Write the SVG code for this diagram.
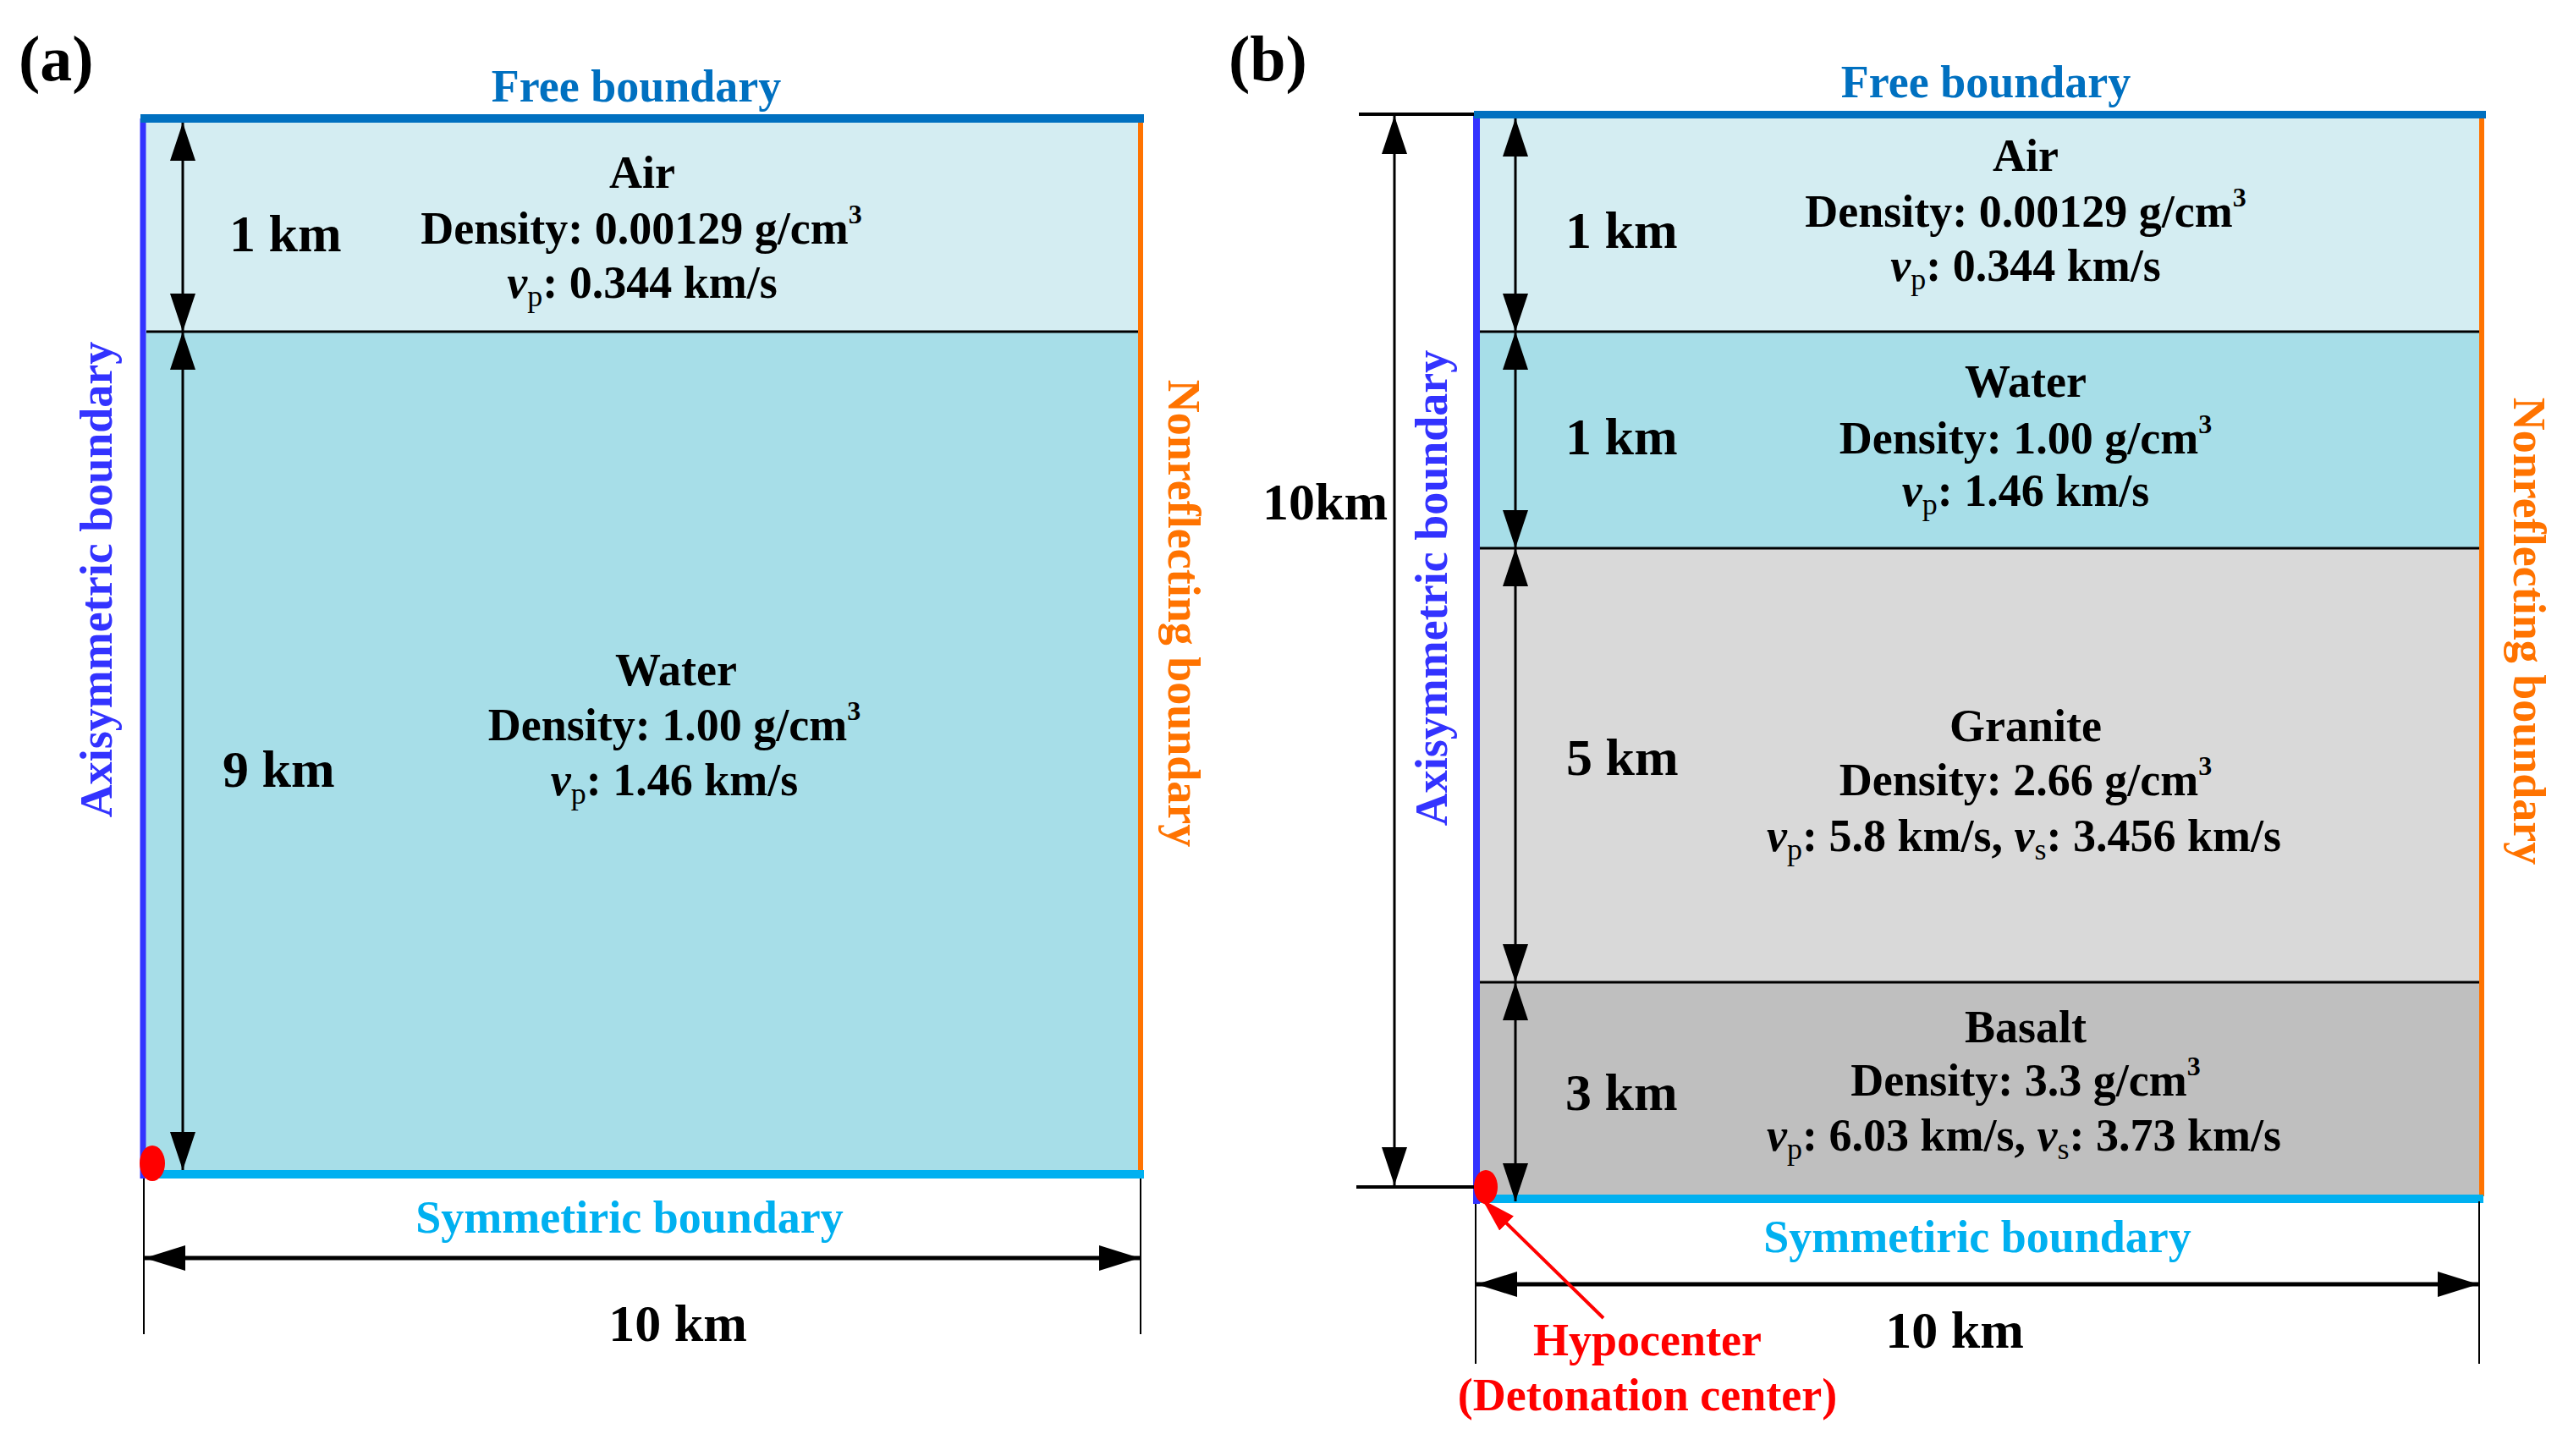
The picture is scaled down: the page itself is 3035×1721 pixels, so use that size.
<svg xmlns="http://www.w3.org/2000/svg" width="3035" height="1721" viewBox="0 0 3035 1721">
<style>
  text { font-family: "Liberation Serif", "Times New Roman", serif; font-weight: bold; }
  .big { font-size: 62px; fill: #000; }
  .lbl { font-size: 54px; fill: #000; text-anchor: middle; }
  .panel { font-size: 76px; fill: #000; }
  .free { font-size: 54px; fill: #0070C0; text-anchor: middle; }
  .sym { font-size: 54px; fill: #00B0F0; text-anchor: middle; }
  .axi { font-size: 54px; fill: #3333FF; text-anchor: middle; }
  .nonr { font-size: 54px; fill: #FF7300; text-anchor: middle; }
  .red { font-size: 54px; fill: #FF0000; text-anchor: middle; }
  .sub { font-size: 36px; font-weight: normal; }
  .sup { font-size: 32px; }
  .it { font-style: italic; }
  .air { fill: #D4EDF2; }
  .water { fill: #A7DEE8; }
  .granite { fill: #D9D9D9; }
  .basalt { fill: #BFBFBF; }
  .div { stroke: #000; stroke-width: 3; }
  .dim { stroke: #000; stroke-width: 3; fill: none; }
  .dimh { stroke: #000; stroke-width: 5; fill: none; }
  .ext { stroke: #000; stroke-width: 2; }
  .ext4 { stroke: #000; stroke-width: 4; }
</style>
<defs>
  <marker id="ah" markerUnits="userSpaceOnUse" markerWidth="45" markerHeight="30" refX="45" refY="15" orient="auto-start-reverse">
    <path d="M0,0 L45,15 L0,30 z" fill="#000"/>
  </marker>
  <marker id="ahh" markerUnits="userSpaceOnUse" markerWidth="48" markerHeight="30" refX="48" refY="15" orient="auto-start-reverse">
    <path d="M0,0 L48,15 L0,30 z" fill="#000"/>
  </marker>
  <marker id="ahr" markerUnits="userSpaceOnUse" markerWidth="40" markerHeight="24" refX="40" refY="12" orient="auto">
    <path d="M0,0 L40,12 L0,24 z" fill="#FF0000"/>
  </marker>
</defs>

<!-- Panel (a) -->
<g id="panel-a-label"><text class="panel" x="22" y="95">(a)</text></g>

<g id="a-air">
  <rect class="air" x="169" y="140" width="1179" height="252"/>
  <text class="lbl" x="759" y="222">Air</text>
  <text class="lbl" x="758" y="288">Density: 0.00129 g/cm<tspan class="sup" dy="-24">3</tspan></text>
  <text class="lbl" x="759" y="352"><tspan class="it">v</tspan><tspan class="sub" dy="10">p</tspan><tspan dy="-10">: 0.344 km/s</tspan></text>
</g>
<g id="a-water">
  <rect class="water" x="169" y="392" width="1179" height="996"/>
  <text class="lbl" x="799" y="810">Water</text>
  <text class="lbl" x="797" y="875">Density: 1.00 g/cm<tspan class="sup" dy="-24">3</tspan></text>
  <text class="lbl" x="797" y="940"><tspan class="it">v</tspan><tspan class="sub" dy="10">p</tspan><tspan dy="-10">: 1.46 km/s</tspan></text>
</g>

<g id="a-boundaries">
  <line x1="169" y1="140" x2="169" y2="1393" stroke="#3333FF" stroke-width="7"/>
  <line x1="1348" y1="145" x2="1348" y2="1385" stroke="#FF7300" stroke-width="6"/>
  <line x1="166" y1="140" x2="1352" y2="140" stroke="#0070C0" stroke-width="10"/>
  <line x1="173" y1="1388" x2="1352" y2="1388" stroke="#00B0F0" stroke-width="10"/>
  <line class="div" x1="173" y1="392" x2="1345" y2="392"/>
</g>

<g id="a-free-label"><text class="free" x="752" y="120">Free boundary</text></g>
<g id="a-sym-label"><text class="sym" x="744" y="1457">Symmetiric boundary</text></g>
<g id="a-axi-label"><text class="axi" transform="translate(132,685) rotate(-90)" x="0" y="0">Axisymmetric boundary</text></g>
<g id="a-nonr-label"><text class="nonr" transform="translate(1381,725) rotate(90)" x="0" y="0">Nonreflecting boundary</text></g>
<g id="a-hypo"><ellipse cx="180" cy="1375" rx="15" ry="21" fill="#FF0000"/></g>

<g id="a-dim-labels">
  <text class="big" x="271" y="297">1 km</text>
  <text class="big" x="263" y="930">9 km</text>
  <text class="big" x="801" y="1585" text-anchor="middle">10 km</text>
</g>

<!-- Panel (b) -->
<g id="panel-b-label"><text class="panel" x="1452" y="95">(b)</text></g>

<g id="b-air">
  <rect class="air" x="1745" y="135" width="1188" height="257"/>
  <text class="lbl" x="2394" y="202">Air</text>
  <text class="lbl" x="2394" y="268">Density: 0.00129 g/cm<tspan class="sup" dy="-24">3</tspan></text>
  <text class="lbl" x="2394" y="332"><tspan class="it">v</tspan><tspan class="sub" dy="10">p</tspan><tspan dy="-10">: 0.344 km/s</tspan></text>
</g>
<g id="b-water">
  <rect class="water" x="1745" y="392" width="1188" height="256"/>
  <text class="lbl" x="2394" y="469">Water</text>
  <text class="lbl" x="2394" y="536">Density: 1.00 g/cm<tspan class="sup" dy="-24">3</tspan></text>
  <text class="lbl" x="2394" y="598"><tspan class="it">v</tspan><tspan class="sub" dy="10">p</tspan><tspan dy="-10">: 1.46 km/s</tspan></text>
</g>
<g id="b-granite">
  <rect class="granite" x="1745" y="648" width="1188" height="513"/>
  <text class="lbl" x="2394" y="876">Granite</text>
  <text class="lbl" x="2394" y="940">Density: 2.66 g/cm<tspan class="sup" dy="-24">3</tspan></text>
  <text class="lbl" x="2392" y="1006"><tspan class="it">v</tspan><tspan class="sub" dy="10">p</tspan><tspan dy="-10">: 5.8 km/s, </tspan><tspan class="it">v</tspan><tspan class="sub" dy="10">s</tspan><tspan dy="-10">: 3.456 km/s</tspan></text>
</g>
<g id="b-basalt">
  <rect class="basalt" x="1745" y="1161" width="1188" height="256"/>
  <text class="lbl" x="2394" y="1232">Basalt</text>
  <text class="lbl" x="2394" y="1295">Density: 3.3 g/cm<tspan class="sup" dy="-24">3</tspan></text>
  <text class="lbl" x="2392" y="1360"><tspan class="it">v</tspan><tspan class="sub" dy="10">p</tspan><tspan dy="-10">: 6.03 km/s, </tspan><tspan class="it">v</tspan><tspan class="sub" dy="10">s</tspan><tspan dy="-10">: 3.73 km/s</tspan></text>
</g>

<g id="b-boundaries">
  <line x1="1745" y1="135" x2="1745" y2="1423" stroke="#3333FF" stroke-width="8"/>
  <line x1="2933" y1="140" x2="2933" y2="1414" stroke="#FF7300" stroke-width="6"/>
  <line x1="1742" y1="135.5" x2="2938" y2="135.5" stroke="#0070C0" stroke-width="9"/>
  <line x1="1749" y1="1417" x2="2935" y2="1417" stroke="#00B0F0" stroke-width="10"/>
  <line class="div" x1="1749" y1="392" x2="2930" y2="392"/>
  <line class="div" x1="1749" y1="648" x2="2930" y2="648"/>
  <line class="div" x1="1749" y1="1161" x2="2930" y2="1161"/>
</g>

<g id="b-free-label"><text class="free" x="2347" y="115">Free boundary</text></g>
<g id="b-sym-label"><text class="sym" x="2337" y="1480">Symmetiric boundary</text></g>
<g id="b-axi-label"><text class="axi" transform="translate(1710,695) rotate(-90)" x="0" y="0">Axisymmetric boundary</text></g>
<g id="b-nonr-label"><text class="nonr" transform="translate(2971,746) rotate(90)" x="0" y="0">Nonreflecting boundary</text></g>
<g id="b-hypo">
  <ellipse cx="1756" cy="1403" rx="14" ry="20" fill="#FF0000"/>
  <text class="red" x="1947" y="1602">Hypocenter</text>
  <text class="red" x="1947" y="1667">(Detonation center)</text>
</g>

<g id="b-dim-labels">
  <text class="big" x="1492" y="614">10km</text>
  <text class="big" x="1850" y="293">1 km</text>
  <text class="big" x="1850" y="537">1 km</text>
  <text class="big" x="1851" y="916">5 km</text>
  <text class="big" x="1850" y="1312">3 km</text>
  <text class="big" x="2310" y="1593" text-anchor="middle">10 km</text>
</g>

<!-- Connectors -->
<g id="connectors">
  <!-- (a) vertical dims -->
  <line class="dim" x1="216" y1="145" x2="216" y2="392" marker-start="url(#ah)" marker-end="url(#ah)"/>
  <line class="dim" x1="216" y1="392" x2="216" y2="1383" marker-start="url(#ah)" marker-end="url(#ah)"/>
  <!-- (a) horizontal dim -->
  <line class="ext" x1="170" y1="1393" x2="170" y2="1577"/>
  <line class="ext" x1="1348" y1="1393" x2="1348" y2="1577"/>
  <line class="dimh" x1="171" y1="1487" x2="1347" y2="1487" marker-start="url(#ahh)" marker-end="url(#ahh)"/>
  <!-- (b) inner vertical dims -->
  <line class="dim" x1="1791" y1="140" x2="1791" y2="392" marker-start="url(#ah)" marker-end="url(#ah)"/>
  <line class="dim" x1="1791" y1="392" x2="1791" y2="648" marker-start="url(#ah)" marker-end="url(#ah)"/>
  <line class="dim" x1="1791" y1="648" x2="1791" y2="1161" marker-start="url(#ah)" marker-end="url(#ah)"/>
  <line class="dim" x1="1791" y1="1161" x2="1791" y2="1420" marker-start="url(#ah)" marker-end="url(#ah)"/>
  <!-- (b) outer 10km dim -->
  <line class="ext4" x1="1606" y1="135" x2="1742" y2="135"/>
  <line class="ext4" x1="1603" y1="1403" x2="1742" y2="1403"/>
  <line class="dim" x1="1648" y1="137" x2="1648" y2="1401" marker-start="url(#ah)" marker-end="url(#ah)"/>
  <!-- (b) horizontal dim -->
  <line class="ext" x1="1744" y1="1423" x2="1744" y2="1612"/>
  <line class="ext" x1="2930" y1="1420" x2="2930" y2="1612"/>
  <line class="dimh" x1="1745" y1="1518" x2="2929" y2="1518" marker-start="url(#ahh)" marker-end="url(#ahh)"/>
  <!-- hypocenter pointer -->
  <line x1="1895" y1="1558" x2="1752" y2="1418" stroke="#FF0000" stroke-width="4" marker-end="url(#ahr)"/>
</g>
</svg>
